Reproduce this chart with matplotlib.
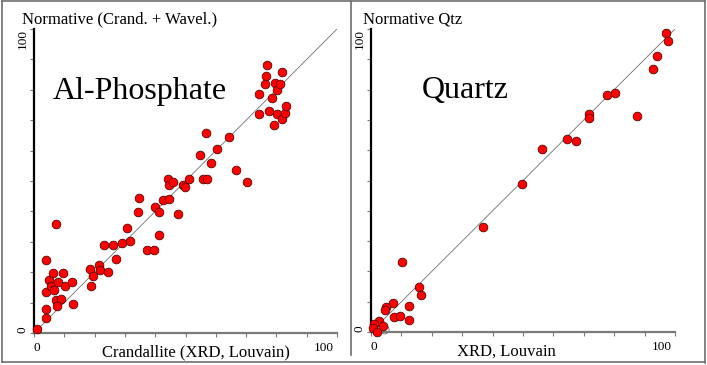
import numpy as np
import matplotlib
matplotlib.use('Agg')
import matplotlib.pyplot as plt
from matplotlib.lines import Line2D

plt.rcParams['font.family'] = ['Liberation Serif', 'DejaVu Serif']

# Al-Phosphate: Crandallite (XRD, Louvain) vs normative (Crand. + Wavel.)
phos_x = [0.9, 4.0, 3.9, 3.9, 3.9, 7.2, 5.1, 6.2, 9.5, 5.5, 8.0, 6.6, 10.1, 12.4,
          12.8, 7.3, 8.8, 7.5, 18.4, 19.5, 18.8, 21.6, 21.9, 24.3, 23.2, 26.0,
          27.1, 29.0, 31.8, 30.7, 34.8, 34.2, 37.3, 39.7, 41.4, 39.8, 41.1, 42.5,
          44.7, 47.5, 44.2, 44.7, 46.0, 49.1, 49.9, 51.3, 54.8, 55.7, 57.0, 56.7,
          58.5, 60.3, 64.2, 66.7, 70.2, 74.1, 74.1, 76.8, 76.5, 76.3, 77.4, 78.5,
          79.2, 80.1, 79.6, 80.1, 81.2, 81.8, 81.8, 82.9, 83.1]
phos_y = [1.2, 4.8, 7.8, 13.6, 24.0, 36.0, 17.4, 19.8, 19.8, 15.5, 16.9, 14.1, 15.6, 16.9,
          9.5, 10.9, 11.2, 8.9, 20.9, 18.7, 15.5, 22.5, 20.7, 20.1, 29.1, 29.1,
          24.5, 29.7, 30.2, 34.4, 44.5, 39.7, 27.3, 27.3, 32.4, 41.5, 39.9, 43.7,
          44.0, 39.0, 50.5, 48.7, 49.8, 48.7, 48.1, 50.5, 58.4, 50.8, 50.5, 65.7,
          56.0, 60.4, 64.6, 53.6, 49.8, 78.6, 72.0, 88.0, 84.4, 81.9, 72.9, 77.3,
          68.5, 72.1, 82.2, 80.0, 81.9, 85.7, 70.4, 72.3, 74.7]

# Quartz: XRD, Louvain vs normative Qtz
qtz_x = [97.0, 97.6, 94.2, 92.9, 80.3, 77.7, 71.8, 71.7, 87.4, 64.4, 67.4, 56.3,
         49.7, 36.7, 10.2, 15.9, 16.4, 12.4, 12.4, 7.2, 4.9, 4.5, 7.7, 9.4,
         2.6, 4.1, 1.1, 0.8, 1.9]
qtz_y = [98.8, 96.1, 91.2, 86.8, 79.0, 78.1, 71.9, 70.5, 71.3, 63.7, 63.1, 60.4,
         48.7, 34.8, 23.2, 15.0, 12.2, 8.7, 4.0, 9.7, 8.1, 7.3, 4.8, 5.4,
         3.7, 2.1, 2.6, 1.2, 0.1]
qtz_open_x = [2.0, 4.5]
qtz_open_y = [0.6, 0.8]

W, H = 707.0, 365.0
fig = plt.figure(figsize=(7.07, 3.65), dpi=100)


def px_axes(x0, x1, ytop, ybot):
    return fig.add_axes([x0 / W, (H - ybot) / H, (x1 - x0) / W, (ybot - ytop) / H])


def style_axes(ax):
    ax.set_xlim(0, 100)
    ax.set_ylim(0, 100)
    ax.set_facecolor('none')
    for s in ['top', 'right']:
        ax.spines[s].set_visible(False)
    ax.spines['left'].set_color('black')
    ax.spines['left'].set_linewidth(1.6)
    ax.spines['bottom'].set_color('#7a7a7a')
    ax.spines['bottom'].set_linewidth(1.6)
    ax.set_xticks(np.arange(0, 101, 10))
    ax.set_yticks(np.arange(0, 101, 10))
    ax.tick_params(direction='out', length=3, width=0.8, color='#7a7a7a',
                   labelbottom=False, labelleft=False)
    ax.plot([0, 100], [0, 100], color='#707070', lw=0.6, zorder=1)
    # tick labels 0 and 100
    ax.text(0.01, -0.03, '0', transform=ax.transAxes, ha='center', va='top', fontsize=9.5)
    ax.text(0.99, -0.03, '100', transform=ax.transAxes, ha='right', va='top', fontsize=9.5)
    ax.text(-0.038, 0.0, '0', transform=ax.transAxes, rotation=90,
            ha='center', va='bottom', fontsize=9.5)
    ax.text(-0.038, 1.0, '100', transform=ax.transAxes, rotation=90,
            ha='center', va='top', fontsize=9.5)


ax1 = px_axes(34, 337, 29, 333)
style_axes(ax1)
ax1.scatter(phos_x, phos_y, s=40, c='#ff0000', edgecolors='#3a0000',
            linewidths=0.5, zorder=3, clip_on=False)
ax1.text(6.3, 77, 'Al-Phosphate', fontsize=23, ha='left', va='baseline')

ax2 = px_axes(371, 675, 29, 332)
style_axes(ax2)
ax2.scatter(qtz_open_x, qtz_open_y, s=40, facecolors='none', edgecolors='#505050',
            linewidths=0.5, zorder=2, clip_on=False)
ax2.scatter(qtz_x, qtz_y, s=40, c='#ff0000', edgecolors='#3a0000',
            linewidths=0.5, zorder=3, clip_on=False)
ax2.text(16.8, 77.2, 'Quartz', fontsize=23, ha='left', va='baseline')

# titles and axis labels
fig.text(22 / W, (H - 23) / H, 'Normative (Crand. + Wavel.)', fontsize=12, va='baseline')
fig.text(363 / W, (H - 23) / H, 'Normative Qtz', fontsize=12, va='baseline')
fig.text(102 / W, (H - 356) / H, 'Crandallite (XRD, Louvain)', fontsize=12, va='baseline')
fig.text(457 / W, (H - 356) / H, 'XRD, Louvain', fontsize=12, va='baseline')

# panel frames
fc = '#6e6e6e'
fig.add_artist(Line2D([2 / W, 2 / W], [(H - 362) / H, (H - 1) / H], color=fc, lw=1.2))
fig.add_artist(Line2D([2 / W, 705 / W], [(H - 1) / H, (H - 1) / H], color=fc, lw=1.2))
fig.add_artist(Line2D([705 / W, 705 / W], [(H - 363) / H, (H - 1) / H], color=fc, lw=1.2))
fig.add_artist(Line2D([2 / W, 705 / W], [(H - 362) / H, (H - 362) / H], color=fc, lw=1.2))
fig.add_artist(Line2D([351 / W, 351 / W], [(H - 355) / H, (H - 1) / H], color=fc, lw=1.2))

fig.savefig('out.png', dpi=100)
